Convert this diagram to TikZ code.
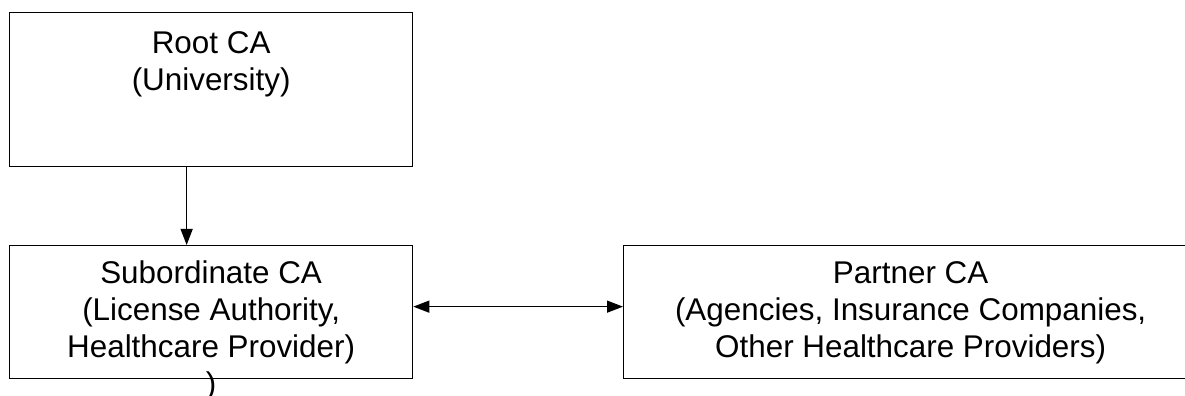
\documentclass[tikz,border=0pt]{standalone}
\usepackage{fontspec}
\setmainfont{Liberation Sans}
\usetikzlibrary{arrows.meta}
\newcommand{\calines}[1]{\begin{tabular}[t]{@{}c@{}}#1\end{tabular}}
\tikzstyle{ca}=[rectangle,draw=black,line width=0.65pt,inner sep=0pt,
  anchor=north west,minimum width=201.5pt,
  font={\fontsize{15.7pt}{18.5pt}\selectfont}]
\tikzstyle{link}=[line width=0.65pt,-{Triangle[length=8pt,width=6pt]}]
\begin{document}
\begin{tikzpicture}[x=1pt,y=1pt]
    \useasboundingbox (0,0) rectangle (592.5,198);
    \node [style=ca,text height=20.5pt,text depth=56.5pt] (root) at (4.5,192)
        {\calines{Root CA\\(University)}};
    \node [style=ca,text height=19pt,text depth=47.5pt] (sub) at (4.5,75.5)
        {\calines{Subordinate CA\\(License Authority,\\Healthcare Provider)\\)}};
    \node [style=ca,text height=19pt,text depth=47.5pt,minimum width=287pt] (partner) at (311.5,75.5)
        {\calines{Partner CA\\(Agencies, Insurance Companies,\\Other Healthcare Providers)}};
    \draw [style=link] ([xshift=-12.25pt]root.south) to ([xshift=-12.25pt]sub.north);
    \draw [style=link,{Triangle[length=8pt,width=6pt]}-{Triangle[length=8pt,width=6pt]}]
        ([yshift=2.75pt]sub.east) to ([yshift=2.75pt]partner.west);
\end{tikzpicture}
\end{document}
